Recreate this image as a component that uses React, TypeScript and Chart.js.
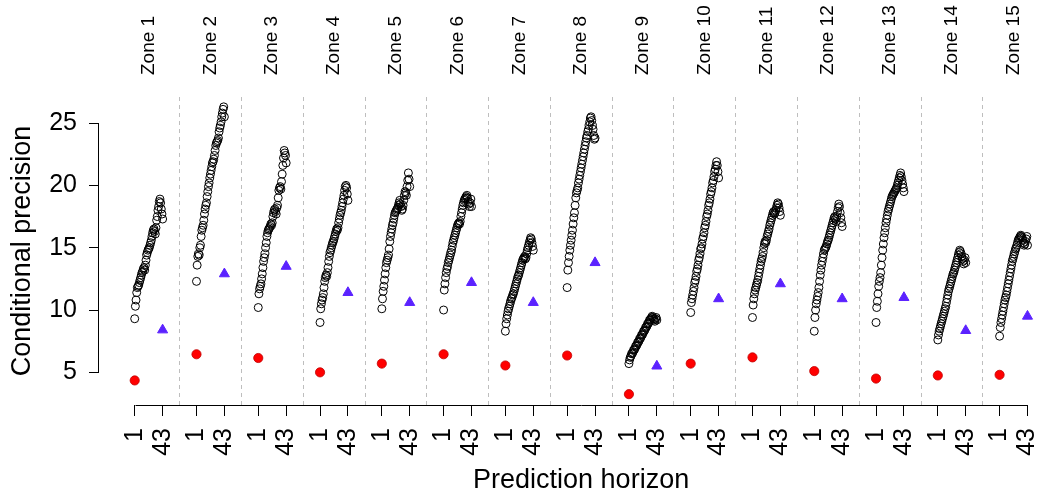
import { useEffect, useRef } from "react";
import { Chart, registerables } from "chart.js";

Chart.register(...registerables);

const ZONES = [
  "Zone 1", "Zone 2", "Zone 3", "Zone 4", "Zone 5", "Zone 6", "Zone 7", "Zone 8",
  "Zone 9", "Zone 10", "Zone 11", "Zone 12", "Zone 13", "Zone 14", "Zone 15",
];
const HORIZONS = 43;
const ZONE_PITCH = 93; // horizon units per zone block (43 horizons + gap)
const Y_TICKS = [5, 10, 15, 20, 25];

const zone1 = [9.3, 10.3, 10.8, 11.4, 11.8, 11.9, 12.0, 12.2, 12.4, 12.6, 12.8, 13.0, 13.1, 13.3, 13.4, 13.2, 13.6, 14.0, 14.4, 14.6, 14.8, 14.9, 15.0, 15.2, 15.4, 15.6, 15.9, 16.2, 16.4, 16.5, 16.3, 16.1, 16.6, 17.2, 17.5, 18.0, 18.3, 18.7, 18.9, 18.6, 18.1, 17.7, 17.3];
const zone2 = [12.3, 13.6, 14.3, 14.5, 14.4, 15.0, 15.2, 15.9, 16.4, 16.6, 16.8, 17.2, 17.7, 18.1, 18.4, 18.6, 19.1, 19.5, 19.9, 20.2, 20.6, 20.9, 21.2, 21.5, 21.8, 21.9, 22.1, 22.4, 22.8, 23.2, 23.4, 23.5, 23.6, 23.8, 24.3, 24.6, 24.8, 25.1, 25.5, 25.8, 26.1, 26.3, 25.5];
const zone3 = [10.2, 11.3, 11.7, 11.9, 12.1, 12.5, 12.9, 13.4, 13.9, 14.2, 14.5, 15.0, 15.4, 15.9, 16.2, 16.4, 16.5, 16.6, 16.7, 16.9, 16.8, 17.0, 17.5, 17.8, 18.0, 18.1, 17.9, 17.7, 18.2, 18.4, 19.0, 19.6, 19.8, 19.9, 19.7, 20.3, 20.9, 21.6, 22.2, 22.8, 22.6, 22.4, 21.8];
const zone4 = [9.0, 10.1, 10.5, 10.8, 11.0, 11.3, 11.8, 12.3, 12.6, 12.8, 12.7, 13.0, 13.4, 13.9, 14.3, 14.6, 14.8, 15.0, 15.2, 15.4, 15.5, 15.7, 15.9, 16.1, 16.3, 16.5, 16.4, 16.6, 17.0, 17.3, 17.6, 17.8, 18.0, 18.3, 18.6, 18.9, 19.2, 19.6, 19.9, 20.0, 19.8, 19.3, 18.8];
const zone5 = [10.1, 10.9, 11.5, 11.9, 12.4, 12.9, 13.4, 13.8, 14.0, 14.2, 14.4, 14.9, 15.5, 15.9, 16.2, 16.5, 16.8, 17.0, 17.3, 17.6, 17.8, 17.9, 18.0, 18.1, 18.2, 18.4, 18.6, 18.8, 18.5, 18.3, 18.0, 18.1, 18.4, 18.8, 19.2, 19.5, 19.4, 19.2, 19.9, 20.4, 21.0, 20.5, 19.9];
const zone6 = [10.0, 11.6, 12.1, 12.6, 13.0, 13.3, 13.5, 13.8, 14.0, 14.2, 14.4, 14.6, 14.8, 15.1, 15.4, 15.6, 15.8, 16.0, 16.2, 16.4, 16.6, 16.8, 16.9, 17.0, 16.9, 17.1, 17.5, 17.8, 18.1, 18.4, 18.6, 18.8, 18.9, 19.0, 19.1, 19.2, 19.0, 18.7, 18.5, 18.3, 18.6, 18.9, 18.3];
const zone7 = [8.3, 8.9, 9.3, 9.6, 9.9, 10.1, 10.3, 10.5, 10.7, 10.9, 11.0, 11.2, 11.3, 11.5, 11.7, 11.9, 12.1, 12.3, 12.5, 12.7, 12.8, 13.0, 13.2, 13.4, 13.6, 13.8, 14.0, 14.1, 14.2, 14.3, 14.1, 14.2, 14.5, 14.8, 15.0, 15.2, 15.4, 15.6, 15.8, 15.7, 15.4, 15.1, 14.8];
const zone8 = [11.8, 13.2, 13.8, 14.3, 14.8, 15.2, 15.6, 16.0, 16.4, 16.9, 17.4, 17.8, 18.4, 19.0, 19.4, 19.6, 19.8, 20.2, 20.5, 20.8, 21.1, 21.4, 21.7, 22.0, 22.3, 22.6, 22.9, 23.2, 23.5, 23.8, 24.0, 24.3, 24.5, 24.8, 25.1, 25.4, 25.5, 25.2, 24.8, 24.5, 24.0, 23.7, 23.8];
const zone9 = [5.7, 6.0, 6.2, 6.3, 6.5, 6.5, 6.6, 6.8, 6.8, 6.9, 7.1, 7.1, 7.2, 7.4, 7.4, 7.5, 7.7, 7.7, 7.8, 8.0, 8.0, 8.1, 8.3, 8.3, 8.4, 8.6, 8.6, 8.7, 8.9, 8.9, 9.0, 9.2, 9.2, 9.3, 9.4, 9.5, 9.4, 9.3, 9.2, 9.1, 9.3, 9.4, 9.2];
const zone10 = [9.8, 10.6, 10.9, 11.2, 11.5, 11.8, 12.2, 12.4, 12.7, 13.1, 13.3, 13.6, 14.0, 14.2, 14.5, 14.9, 15.0, 15.3, 15.7, 15.9, 16.2, 16.6, 16.8, 17.1, 17.5, 17.7, 18.0, 18.4, 18.6, 18.9, 19.3, 19.5, 19.8, 20.2, 20.4, 20.7, 21.1, 21.3, 21.6, 21.9, 21.6, 21.1, 20.6];
const zone11 = [9.4, 10.4, 10.9, 11.3, 11.6, 11.8, 12.0, 12.2, 12.4, 12.7, 13.0, 13.3, 13.6, 13.9, 14.1, 14.3, 14.6, 15.0, 15.3, 15.5, 15.4, 15.6, 15.9, 16.1, 16.3, 16.5, 16.8, 17.0, 17.2, 17.4, 17.6, 17.8, 17.9, 17.7, 17.8, 18.0, 18.2, 18.4, 18.6, 18.5, 18.2, 17.9, 17.6];
const zone12 = [8.3, 9.4, 10.0, 10.5, 10.8, 11.1, 11.4, 11.8, 12.3, 12.8, 13.2, 13.6, 13.9, 14.2, 14.5, 14.8, 14.9, 15.0, 15.1, 15.3, 15.5, 15.6, 15.8, 16.0, 16.2, 16.4, 16.6, 16.8, 17.0, 17.2, 17.4, 17.5, 17.3, 17.1, 17.5, 17.9, 18.2, 18.5, 18.3, 17.8, 17.4, 17.0, 16.7];
const zone13 = [9.0, 10.2, 10.7, 11.3, 11.9, 12.3, 12.6, 13.0, 13.6, 14.2, 14.8, 15.3, 15.8, 16.2, 16.6, 17.0, 17.3, 17.6, 17.9, 18.1, 18.3, 18.5, 18.7, 18.9, 19.1, 19.2, 19.3, 19.4, 19.5, 19.6, 19.7, 19.8, 20.0, 20.2, 20.4, 20.6, 20.8, 21.0, 20.7, 20.4, 20.1, 19.8, 19.5];
const zone14 = [7.6, 8.0, 8.3, 8.5, 8.7, 8.9, 9.1, 9.3, 9.5, 9.7, 9.9, 10.1, 10.3, 10.6, 10.9, 11.2, 11.5, 11.7, 11.9, 12.1, 12.3, 12.5, 12.7, 12.9, 13.0, 13.2, 13.4, 13.6, 13.8, 14.0, 14.2, 14.4, 14.6, 14.8, 14.7, 14.5, 14.3, 14.1, 13.9, 13.7, 14.0, 14.2, 13.8];
const zone15 = [7.9, 8.6, 9.0, 9.3, 9.6, 9.9, 10.2, 10.5, 10.8, 11.0, 11.2, 11.5, 11.8, 12.1, 12.4, 12.7, 13.0, 13.3, 13.6, 13.9, 14.1, 14.3, 14.5, 14.7, 14.9, 15.0, 15.2, 15.4, 15.6, 15.7, 15.8, 15.9, 16.0, 15.9, 15.8, 15.6, 15.4, 15.2, 15.3, 15.5, 15.7, 15.9, 15.2];

const CONDITIONAL = [zone1, zone2, zone3, zone4, zone5, zone6, zone7, zone8, zone9, zone10, zone11, zone12, zone13, zone14, zone15];
const RED_AT_1 = [4.35, 6.45, 6.15, 5.0, 5.7, 6.45, 5.55, 6.35, 3.25, 5.7, 6.2, 5.1, 4.5, 4.75, 4.8];
const BLUE_AT_43 = [8.4, 12.9, 13.5, 11.4, 10.6, 12.2, 10.6, 13.8, 5.5, 10.9, 12.1, 10.9, 11.0, 8.35, 9.5];

const FONT = "'Liberation Sans', Arial, Helvetica, sans-serif";

const xOf = (zone: number, horizon: number) => zone * ZONE_PITCH + horizon;
const X_FIRST = xOf(0, 1);
const X_LAST = xOf(ZONES.length - 1, HORIZONS);
const X_PAD = (X_LAST - X_FIRST) * 0.04;
const X_MIN = X_FIRST - X_PAD;
const X_MAX = X_LAST + X_PAD;
const Y_MIN = 2.38;
const Y_MAX = 27.09;

const decorPlugin = {
  id: "decor",
  beforeDatasetsDraw(chart: any) {
    const { ctx, chartArea, scales } = chart;
    const xs = scales.x;
    const ys = scales.y;
    ctx.save();
    ctx.lineWidth = 1;
    ctx.strokeStyle = "#BEBEBE";
    ctx.setLineDash([4, 4]);
    const half = (ZONE_PITCH - HORIZONS) / 2;
    for (let z = 0; z < ZONES.length - 1; z++) {
      const px = Math.round(xs.getPixelForValue(xOf(z, HORIZONS) + half)) + 0.5;
      ctx.beginPath();
      ctx.moveTo(px, chartArea.top);
      ctx.lineTo(px, chartArea.bottom);
      ctx.stroke();
    }
    ctx.setLineDash([]);
    ctx.strokeStyle = "#000000";
    const ax = Math.round(chartArea.left) - 0.5;
    ctx.beginPath();
    ctx.moveTo(ax, Math.round(ys.getPixelForValue(Y_TICKS[0])) + 0.5);
    ctx.lineTo(ax, Math.round(ys.getPixelForValue(Y_TICKS[Y_TICKS.length - 1])) + 0.5);
    ctx.stroke();
    const ay = Math.round(chartArea.bottom) + 0.5;
    ctx.beginPath();
    ctx.moveTo(Math.round(xs.getPixelForValue(X_FIRST)) + 0.5, ay);
    ctx.lineTo(Math.round(xs.getPixelForValue(X_LAST)) + 0.5, ay);
    ctx.stroke();

    // zone labels along the top margin, rotated like R's las = 2
    ctx.fillStyle = "#000000";
    ctx.font = `19px ${FONT}`;
    ctx.textAlign = "left";
    ctx.textBaseline = "middle";
    ZONES.forEach((label, z) => {
      const px = xs.getPixelForValue(xOf(z, (HORIZONS + 1) / 2));
      ctx.save();
      ctx.translate(px, chartArea.top - 22);
      ctx.rotate(-Math.PI / 2);
      ctx.fillText(label, 0, 0);
      ctx.restore();
    });
    ctx.restore();
  },
};

export default function App() {
  const ref = useRef<HTMLCanvasElement | null>(null);

  useEffect(() => {
    if (!ref.current) return;
    const circles: { x: number; y: number }[] = [];
    CONDITIONAL.forEach((vals, z) => {
      vals.forEach((v, h) => circles.push({ x: xOf(z, h + 1), y: v }));
    });
    const reds = RED_AT_1.map((v, z) => ({ x: xOf(z, 1), y: v }));
    const blues = BLUE_AT_43.map((v, z) => ({ x: xOf(z, HORIZONS), y: v }));

    const bottomTicks: number[] = [];
    ZONES.forEach((_, z) => {
      bottomTicks.push(xOf(z, 1));
      bottomTicks.push(xOf(z, HORIZONS));
    });

    const chart = new Chart(ref.current, {
      type: "scatter",
      data: {
        datasets: [
          {
            data: reds,
            pointStyle: "circle",
            pointRadius: 4.6,
            backgroundColor: "#FF0000",
            borderColor: "#C00000",
            borderWidth: 0.8,
            order: 1,
          },
          {
            data: blues,
            pointStyle: "triangle",
            pointRadius: 5.8,
            backgroundColor: "#5B22FF",
            borderColor: "#5B22FF",
            borderWidth: 1,
            order: 2,
          },
          {
            data: circles,
            pointStyle: "circle",
            pointRadius: 4,
            backgroundColor: "rgba(0,0,0,0)",
            borderColor: "#000000",
            borderWidth: 1,
            order: 3,
          },
        ],
      },
      options: {
        animation: false,
        responsive: false,
        maintainAspectRatio: false,
        devicePixelRatio: 1,
        layout: { padding: { top: 97, left: 0, right: 0, bottom: 0 } },
        plugins: {
          legend: { display: false },
          tooltip: { enabled: false },
        },
        elements: { point: { hoverRadius: 4 } },
        scales: {
          x: {
            type: "linear",
            position: "bottom",
            min: X_MIN,
            max: X_MAX,
            afterBuildTicks: (s: any) => {
              s.ticks = bottomTicks.map((v) => ({ value: v }));
            },
            afterFit: (s: any) => {
              s.height = 88;
            },
            ticks: {
              autoSkip: false,
              minRotation: 90,
              maxRotation: 90,
              padding: 12,
              color: "#000000",
              font: { family: FONT, size: 25 },
              callback: (_v: any, i: number) => (i % 2 === 0 ? "1" : String(HORIZONS)),
            },
            grid: {
              drawOnChartArea: false,
              drawTicks: true,
              tickLength: 11,
              color: "#000000",
              lineWidth: 1,
            },
            border: { display: false },
            title: {
              display: true,
              text: "Prediction horizon",
              color: "#000000",
              font: { family: FONT, size: 27, lineHeight: 0.9 },
              padding: { top: 0, bottom: 0 },
            },
          },
          y: {
            type: "linear",
            position: "left",
            min: Y_MIN,
            max: Y_MAX,
            afterBuildTicks: (s: any) => {
              s.ticks = Y_TICKS.map((v) => ({ value: v }));
            },
            afterFit: (s: any) => {
              s.width = 99;
            },
            ticks: {
              padding: 12,
              color: "#000000",
              font: { family: FONT, size: 25 },
              callback: (v: any) => String(v),
            },
            grid: {
              drawOnChartArea: false,
              drawTicks: true,
              tickLength: 10,
              color: "#000000",
              lineWidth: 1,
            },
            border: { display: false },
            title: {
              display: true,
              text: "Conditional precision",
              color: "#000000",
              font: { family: FONT, size: 27, lineHeight: 1.2 },
              padding: { top: 6, bottom: 0 },
            },
          },
        },
      },
      plugins: [decorPlugin],
    });
    return () => chart.destroy();
  }, []);

  return (
    <div
      style={{
        position: "fixed",
        left: 0,
        top: 0,
        width: 1038,
        height: 493,
        overflow: "hidden",
        background: "#ffffff",
      }}
    >
      <canvas ref={ref} width={1070} height={493} style={{ width: 1070, height: 493, display: "block" }} />
    </div>
  );
}
